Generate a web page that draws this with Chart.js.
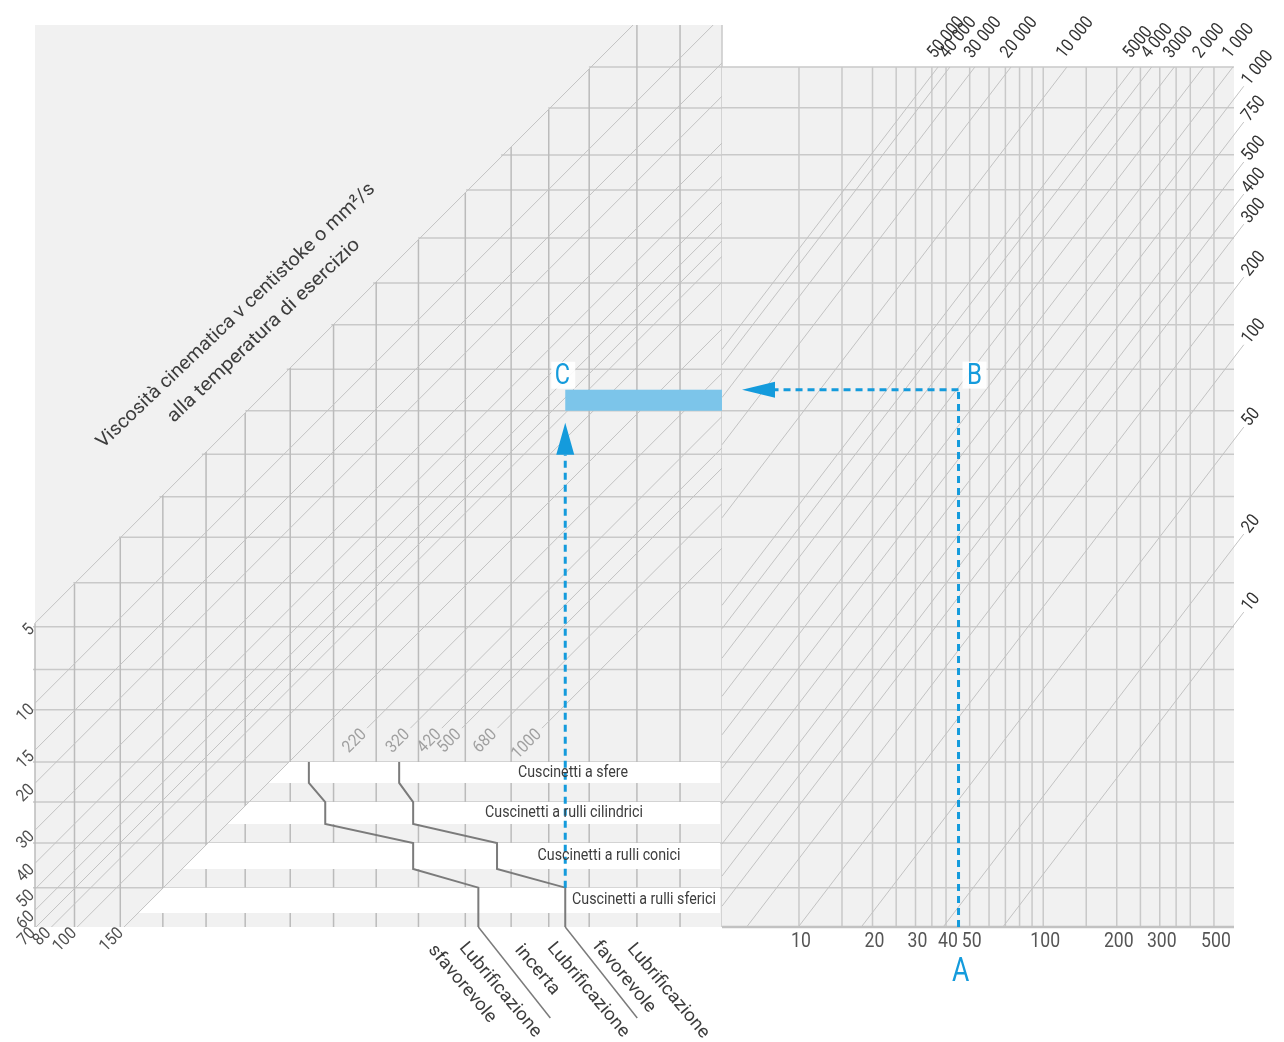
<!DOCTYPE html>
<html>
<head>
<meta charset="utf-8">
<script src="https://cdn.jsdelivr.net/npm/chart.js@4.4.1/dist/chart.umd.min.js"></script>
<style>
  html, body { margin: 0; padding: 0; background: #fff; }
  #wrap { position: relative; width: 1284px; height: 1042px; overflow: hidden; }
  canvas { position: absolute; top: 0; }
  #left { left: 0; width: 730px; height: 1042px; }
  #right { left: 700px; width: 584px; height: 1042px; }
</style>
</head>
<body>
<div id="wrap">
  <canvas id="left" width="730" height="1042"></canvas>
  <canvas id="right" width="584" height="1042"></canvas>
</div>
<script>
// --- axis limits ---
var NU_MIN = 1, NU_MAX = 2460;          // required viscosity, top / bottom edge
var NU_RIGHT_TOP = 1.44;                // top edge of the speed panel
var KAPPA_MIN = 0.0282, KAPPA_MAX = 10.8;
var DM_MIN = 4.84, DM_MAX = 604;
var SPEED_SLOPE = 1.2;                  // decades of viscosity per decade of Dm

// horizontal grid (viscosity) and vertical grid (left panel)
var nuGrid = [1.44, 2.05, 3.08, 4.17, 6.32, 9.33, 13.4, 19.7, 28.2, 41.1, 59.3, 84.2,
              125, 183, 265, 375, 590, 834, 1190, 1750];
var kappaGrid = [0.0397, 0.059, 0.0853, 0.124, 0.174, 0.257, 0.374, 0.541, 0.78,
                 1.17, 1.74, 2.41, 3.42, 5.17, 7.51];

// bearing diameter grid and ticks
var dmGrid = [10, 15, 20, 25, 30, 35, 40, 50, 60, 70, 80, 90, 100, 150, 200, 250, 300, 350, 400, 500];
var dmTicks = [10, 20, 30, 40, 50, 100, 200, 300, 500];

// speed lines: where they leave the panel at the top (Dm) or the right edge (viscosity)
var speedsTop = ['50 000', '40 000', '30 000', '20 000', '10 000', '5000', '4 000', '3000', '2 000', '1 000'];
var speedsTopDm = [37.1, 41.5, 52.5, 73.8, 125, 235, 278, 344, 453, 598];
var speedsSide = ['1 000', '750', '500', '400', '300', '200', '100', '50', '20', '10'];
var speedsSideNu = [1.9, 2.59, 3.66, 4.83, 6.27, 9.92, 17.8, 36.3, 91.6, 180];

// oil viscosity lines at operating temperature
var grades = [5, 10, 15, 20, 30, 40, 50, 60, 70, 80, 100, 150, 220, 320, 420, 500, 680, 1000];
var BAND_EDGE_GRADE = 150;
var GRADE_START_NU = 440;

// bearing bands and lubrication limits
var bearingTypes = ['Cuscinetti a sfere', 'Cuscinetti a rulli cilindrici', 'Cuscinetti a rulli conici', 'Cuscinetti a rulli sferici'];
var bandNuTop = [590, 834, 1190, 1750];
var bandNuBottom = [707, 1009, 1489, 2180];
var kappaIncerta = [0.302, 0.348, 0.745, 1.31];
var kappaFavorevole = [0.66, 0.745, 1.54, 2.78];

// worked example A -> B -> C
var exampleDm = 45;
var exampleNu = 23.5;
var exampleNuBand = 28.2;

var BG = '#f1f1f1', GRID = '#c9c9c9', DIAG = '#c3c3c3', DARK = '#7b7b7b', BLUE = '#149bdc', TXT = '#3d3d3d';

function seg(ctx, x1, y1, x2, y2) {
    ctx.beginPath();
    ctx.moveTo(x1, y1);
    ctx.lineTo(x2, y2);
    ctx.stroke();
}

function label(ctx, str, x, y, o) {
    ctx.save();
    ctx.translate(x, y);
    if (o.angle) ctx.rotate(o.angle * Math.PI / 180);
    ctx.font = (o.size || 15) + 'px Roboto, "Liberation Sans", sans-serif';
    ctx.fillStyle = o.color || TXT;
    ctx.textAlign = o.align || 'center';
    ctx.textBaseline = o.baseline || 'middle';
    var sx = o.width ? o.width / ctx.measureText(str).width : (o.squeeze || 0.85);
    ctx.scale(sx, 1);
    ctx.fillText(str, 0, 0);
    ctx.restore();
}

function arrowHead(ctx, tipX, tipY, dx, dy, len, half) {
    // dx, dy: unit vector pointing from the base to the tip
    ctx.beginPath();
    ctx.moveTo(tipX, tipY);
    ctx.lineTo(tipX - dx * len - dy * half, tipY - dy * len + dx * half);
    ctx.lineTo(tipX - dx * len + dy * half, tipY - dy * len - dx * half);
    ctx.closePath();
    ctx.fill();
}

function gradeSegment(g) {
    var lo;
    if (g <= BAND_EDGE_GRADE) {
        lo = g / KAPPA_MIN <= NU_MAX ? {x: KAPPA_MIN, y: g / KAPPA_MIN} : {x: g / NU_MAX, y: NU_MAX};
    } else {
        lo = {x: g / GRADE_START_NU, y: GRADE_START_NU};
    }
    var hi = g / KAPPA_MAX >= NU_MIN ? {x: KAPPA_MAX, y: g / KAPPA_MAX} : {x: g / NU_MIN, y: NU_MIN};
    return [lo, hi];
}

function speedSegment(dmA, nuA, ext) {
    var L = Math.log10;
    var lv = L(nuA) + SPEED_SLOPE * (L(dmA) - L(DM_MIN));
    var lo;
    if (lv <= L(NU_MAX)) lo = {x: DM_MIN, y: Math.pow(10, lv)};
    else lo = {x: Math.pow(10, L(dmA) - (L(NU_MAX) - L(nuA)) / SPEED_SLOPE), y: NU_MAX};
    var hi = {x: dmA * Math.pow(10, ext), y: nuA * Math.pow(10, -SPEED_SLOPE * ext)};
    return [lo, hi];
}

function lineSet(points, color, width, order) {
    return {data: points, showLine: true, borderColor: color, borderWidth: width,
            pointRadius: 0, clip: false, order: order};
}

// ---------------- left panel: viscosity / bearing type ----------------
var leftSets = grades.map(function(g) { return lineSet(gradeSegment(g), DIAG, 1, 3); });
[kappaIncerta, kappaFavorevole].forEach(function(ks) {
    var pts = [];
    ks.forEach(function(k, i) {
        pts.push({x: k, y: bandNuTop[i]});
        pts.push({x: k, y: i === ks.length - 1 ? NU_MAX : bandNuBottom[i]});
    });
    leftSets.push(lineSet(pts, DARK, 2, 1));
});

var leftPlugin = {
    id: 'leftPanel',
    beforeDatasetsDraw: function(chart) {
        var ctx = chart.ctx, a = chart.chartArea, x = chart.scales.x, y = chart.scales.y;
        ctx.save();
        ctx.fillStyle = BG;
        ctx.fillRect(a.left, a.top, a.right - a.left, a.bottom - a.top);
        ctx.strokeStyle = GRID;
        ctx.lineWidth = 1.5;
        nuGrid.forEach(function(v) {
            var k0 = Math.max(KAPPA_MIN, grades[0] / v);
            seg(ctx, x.getPixelForValue(k0) - 2, y.getPixelForValue(v), a.right, y.getPixelForValue(v));
        });
        ctx.strokeStyle = '#bbbbbb';
        [KAPPA_MIN].concat(kappaGrid).forEach(function(k) {
            var v0 = Math.max(NU_MIN, grades[0] / k);
            seg(ctx, x.getPixelForValue(k), y.getPixelForValue(v0), x.getPixelForValue(k), a.bottom);
        });
        // white bearing bands, left edge on the 150 line
        ctx.fillStyle = '#ffffff';
        bandNuTop.forEach(function(t, i) {
            var b = bandNuBottom[i];
            ctx.beginPath();
            ctx.moveTo(x.getPixelForValue(BAND_EDGE_GRADE / t), y.getPixelForValue(t));
            ctx.lineTo(a.right - 2, y.getPixelForValue(t));
            ctx.lineTo(a.right - 2, y.getPixelForValue(b));
            ctx.lineTo(x.getPixelForValue(BAND_EDGE_GRADE / b), y.getPixelForValue(b));
            ctx.closePath();
            ctx.fill();
        });
        ctx.strokeStyle = GRID;
        seg(ctx, a.right, a.top, a.right, a.bottom);
        ctx.restore();
    },
    afterDatasetsDraw: function(chart) {
        var ctx = chart.ctx, a = chart.chartArea, x = chart.scales.x, y = chart.scales.y;
        ctx.save();

        // blue example: band C and the arrow coming up from the bottom
        var kx = x.getPixelForValue(kappaFavorevole[3]);
        var yb = y.getPixelForValue(exampleNu), yb2 = y.getPixelForValue(exampleNuBand);
        ctx.fillStyle = '#7cc5ea';
        ctx.fillRect(kx, yb, a.right - kx, yb2 - yb);
        ctx.strokeStyle = BLUE;
        ctx.fillStyle = BLUE;
        ctx.lineWidth = 3;
        ctx.setLineDash([7, 5]);
        seg(ctx, kx, y.getPixelForValue(bandNuTop[3]), kx, yb2 + 44);
        ctx.setLineDash([]);
        arrowHead(ctx, kx, yb2 + 12, 0, -1, 32, 9);
        ctx.fillStyle = 'rgba(255,255,255,0.9)';
        ctx.fillRect(kx - 14, yb - 28, 24, 27);
        label(ctx, 'C', kx - 3, yb - 13, {size: 30, color: BLUE, squeeze: 0.78});

        // leaders of the lubrication limits
        ctx.strokeStyle = DARK;
        ctx.lineWidth = 1.5;
        [kappaIncerta[3], kappaFavorevole[3]].forEach(function(k) {
            var px = x.getPixelForValue(k);
            seg(ctx, px, a.bottom, px + 72, a.bottom + 91);
        });

        // grade labels
        grades.forEach(function(g) {
            var lo = gradeSegment(g)[0];
            var px = x.getPixelForValue(lo.x), py = y.getPixelForValue(lo.y);
            label(ctx, String(g), px - 3, py + 4, {size: 17, align: 'right', angle: -45, squeeze: 0.9,
                  color: g > BAND_EDGE_GRADE ? '#a0a0a0' : '#505050'});
        });

        // band names
        var bandCx = [573, 564, 609, 644];
        var bandW = [110, 158, 143, 144];
        bearingTypes.forEach(function(t, i) {
            var cy = (y.getPixelForValue(bandNuTop[i]) + y.getPixelForValue(bandNuBottom[i])) / 2;
            label(ctx, t, bandCx[i], cy, {size: 16, width: bandW[i]});
        });

        // axis title along the diagonal
        label(ctx, 'Viscosità cinematica v centistoke o mm²/s', 236, 316, {size: 19, angle: -43.5, width: 376});
        label(ctx, 'alla temperatura di esercizio', 264, 331, {size: 19, angle: -43.5, width: 258});

        // lubrication labels
        var lub = [['Lubrificazione', 500, 990, 118], ['sfavorevole', 462, 984, 96],
                   ['Lubrificazione', 588, 990, 118], ['incerta', 537, 970, 60],
                   ['Lubrificazione', 668, 991, 118], ['favorevole', 624, 977, 88]];
        lub.forEach(function(l) {
            label(ctx, l[0], l[1], l[2], {size: 18, angle: 50, width: l[3]});
        });
        ctx.restore();
    }
};

new Chart(document.getElementById('left'), {
    type: 'scatter',
    data: {datasets: leftSets},
    options: {
        responsive: false,
        animation: false,
        events: [],
        layout: {padding: {left: 35, right: 8, top: 25, bottom: 115}},
        plugins: {legend: {display: false}, tooltip: {enabled: false}},
        scales: {
            x: {type: 'logarithmic', min: KAPPA_MIN, max: KAPPA_MAX, display: false},
            y: {type: 'logarithmic', reverse: true, min: NU_MIN, max: NU_MAX, display: false}
        }
    },
    plugins: [leftPlugin]
});

// ---------------- right panel: speed / mean diameter ----------------
var SIDE_EXT = 0.04;
var rightSets = [];
speedsTopDm.forEach(function(d) {
    rightSets.push(lineSet(speedSegment(d, NU_RIGHT_TOP, 0), DIAG, 1, 3));
});
speedsSideNu.forEach(function(v) {
    rightSets.push(lineSet(speedSegment(DM_MAX, v, SIDE_EXT), DIAG, 1, 3));
});

var rightPlugin = {
    id: 'rightPanel',
    beforeDatasetsDraw: function(chart) {
        var ctx = chart.ctx, a = chart.chartArea, x = chart.scales.x, y = chart.scales.y;
        ctx.save();
        ctx.fillStyle = BG;
        ctx.fillRect(a.left, a.top, a.right - a.left, a.bottom - a.top);
        ctx.strokeStyle = GRID;
        ctx.lineWidth = 1.5;
        nuGrid.forEach(function(v) {
            seg(ctx, a.left, y.getPixelForValue(v), a.right, y.getPixelForValue(v));
        });
        dmGrid.forEach(function(d) {
            seg(ctx, x.getPixelForValue(d), a.top, x.getPixelForValue(d), a.bottom);
        });
        ctx.strokeStyle = '#c2c2c2';
        ctx.lineWidth = 2.5;
        seg(ctx, a.left, a.bottom, a.right, a.bottom);
        ctx.restore();
    },
    afterDatasetsDraw: function(chart) {
        var ctx = chart.ctx, a = chart.chartArea, x = chart.scales.x, y = chart.scales.y;
        ctx.save();

        // A -> B -> C path
        var bx = x.getPixelForValue(exampleDm), by = y.getPixelForValue(exampleNu);
        ctx.strokeStyle = BLUE;
        ctx.fillStyle = BLUE;
        ctx.lineWidth = 3;
        ctx.setLineDash([7, 5]);
        seg(ctx, bx, a.bottom, bx, by);
        seg(ctx, bx, by, a.left + 53, by);
        ctx.setLineDash([]);
        arrowHead(ctx, a.left + 20, by, -1, 0, 33, 8);
        ctx.fillStyle = 'rgba(255,255,255,0.9)';
        ctx.fillRect(bx + 4, by - 28, 24, 27);
        label(ctx, 'B', bx + 16, by - 13, {size: 30, color: BLUE, squeeze: 0.8});
        label(ctx, 'A', bx + 2, a.bottom + 45, {size: 34, color: BLUE, squeeze: 0.78});

        // diameter ticks and title
        dmTicks.forEach(function(d) {
            label(ctx, String(d), x.getPixelForValue(d) + 2, a.bottom + 15, {size: 21, color: '#555', squeeze: 0.84});
        });
        label(ctx, 'Diametro medio (Dm) in mm del cuscinetto', 971, 1023, {size: 23, width: 412});

        // speed labels
        speedsTopDm.forEach(function(d, i) {
            var px = x.getPixelForValue(d);
            label(ctx, speedsTop[i], px - 3, a.top - 8, {size: 18, align: 'left', baseline: 'alphabetic',
                  angle: -51, squeeze: 0.86, color: '#333'});
        });
        speedsSideNu.forEach(function(v, i) {
            var end = speedSegment(DM_MAX, v, SIDE_EXT)[1];
            var px = x.getPixelForValue(end.x), py = y.getPixelForValue(end.y);
            label(ctx, speedsSide[i], px + 2, py - 3, {size: 18, align: 'left', angle: -51, squeeze: 0.86, color: '#333'});
        });

        // header with arrow
        label(ctx, 'Velocità (N) giri/min.', 733, 36, {size: 16, align: 'left', width: 144});
        ctx.strokeStyle = '#7d4a7d';
        ctx.lineWidth = 1.3;
        seg(ctx, 887, 37, 912, 37);
        ctx.fillStyle = '#222';
        arrowHead(ctx, 920, 37, 1, 0, 9, 4);
        ctx.restore();
    }
};

new Chart(document.getElementById('right'), {
    type: 'scatter',
    data: {datasets: rightSets},
    options: {
        responsive: false,
        animation: false,
        events: [],
        layout: {padding: {left: 22, right: 50, top: 67, bottom: 115}},
        plugins: {legend: {display: false}, tooltip: {enabled: false}},
        scales: {
            x: {type: 'logarithmic', min: DM_MIN, max: DM_MAX, display: false},
            y: {type: 'logarithmic', reverse: true, min: NU_RIGHT_TOP, max: NU_MAX, display: false}
        }
    },
    plugins: [rightPlugin]
});
</script>
</body>
</html>
